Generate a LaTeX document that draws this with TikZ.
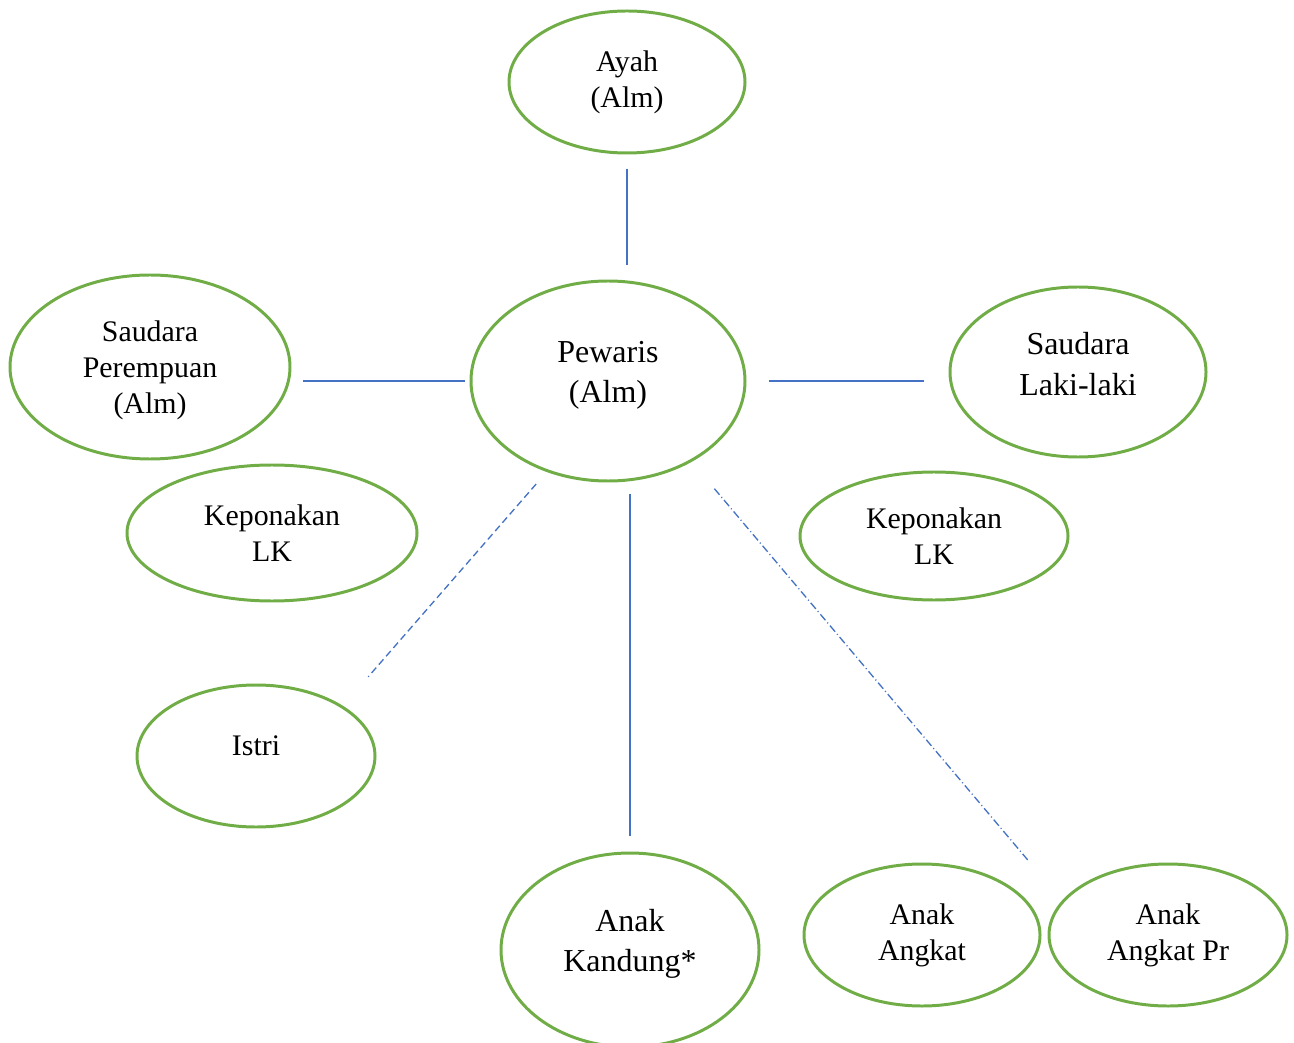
\documentclass[tikz,border=0pt]{standalone}
\usepackage{fontspec}
\setmainfont{Liberation Serif}
\usetikzlibrary{shapes.geometric}
\definecolor{leaf}{HTML}{70AD47}
\definecolor{wire}{HTML}{4472C4}
\begin{document}
\begin{tikzpicture}
   [
     x                       = 0.02cm,
     y                       = -0.02cm,
     every node/.style       = {font=\fontsize{17}{20.5}\selectfont},
     person/.style  = {shape=ellipse, draw=leaf, line width=1.7pt,
     align=center, inner sep=0pt},
     wide/.style    = {person, font=\fontsize{18.2}{22.8}\selectfont},
     lift/.style    = {text depth=#1},
     link/.style    = {draw=wire, line width=0.75pt},
     dashlink/.style = {link, dash pattern=on 4pt off 2.3pt},
     dotlink/.style  = {link, dash pattern=on 4.5pt off 1.7pt on 0.6pt off 1.7pt}
   ]
    \useasboundingbox (0,0) rectangle (1294,1043);
    % the family
    \node [person, minimum width=236*0.02cm, minimum height=142*0.02cm] (ayah) at (627,82) {Ayah\\(Alm)};
    \node [wide, lift=10.4pt, minimum width=274*0.02cm, minimum height=200*0.02cm] (pew) at (608,381) {Pewaris\\(Alm)};
    \node [person, lift=0pt, minimum width=280*0.02cm, minimum height=184*0.02cm] (sdpr) at (150,367) {Saudara\\Perempuan\\(Alm)};
    \node [wide, lift=9.2pt, minimum width=256*0.02cm, minimum height=170*0.02cm] (sdlk) at (1078,372) {Saudara\\Laki-laki};
    \node [person, minimum width=290*0.02cm, minimum height=136*0.02cm] (kplkl) at (272,533) {Keponakan\\LK};
    \node [person, minimum width=268*0.02cm, minimum height=128*0.02cm] (kplkr) at (934,536) {Keponakan\\LK};
    \node [person, lift=11.5pt, minimum width=238*0.02cm, minimum height=142*0.02cm] (istri) at (256,756) {Istri};
    \node [wide, lift=11pt, minimum width=258*0.02cm, minimum height=194*0.02cm] (akd) at (630,950) {Anak\\Kandung*};
    \node [person, minimum width=236*0.02cm, minimum height=142*0.02cm] (aa) at (922,935) {Anak\\Angkat};
    \node [person, minimum width=238*0.02cm, minimum height=142*0.02cm] (aapr) at (1168,935) {Anak\\Angkat Pr};
    % links
    \draw [link, shorten <=8pt, shorten >=8pt] (ayah.south) -- (ayah.south |- pew.north);
    \draw [link, shorten <=6.3pt, shorten >=2.3pt] (sdpr.east |- pew.west) -- (pew.west);
    \draw [link, shorten <=13pt, shorten >=14.2pt] (pew.east) -- (pew.east -| sdlk.west);
    \draw [dashlink, shorten <=9.1pt, shorten >=21.9pt] (pew.236) -- (istri.30);
    \draw [link, shorten <=6.8pt, shorten >=9.1pt] (akd.north |- pew.south) -- (akd.north);
    \draw [dotlink, shorten <=20pt, shorten >=29pt] (pew.316) -- (aapr.162);
\end{tikzpicture}
\end{document}
